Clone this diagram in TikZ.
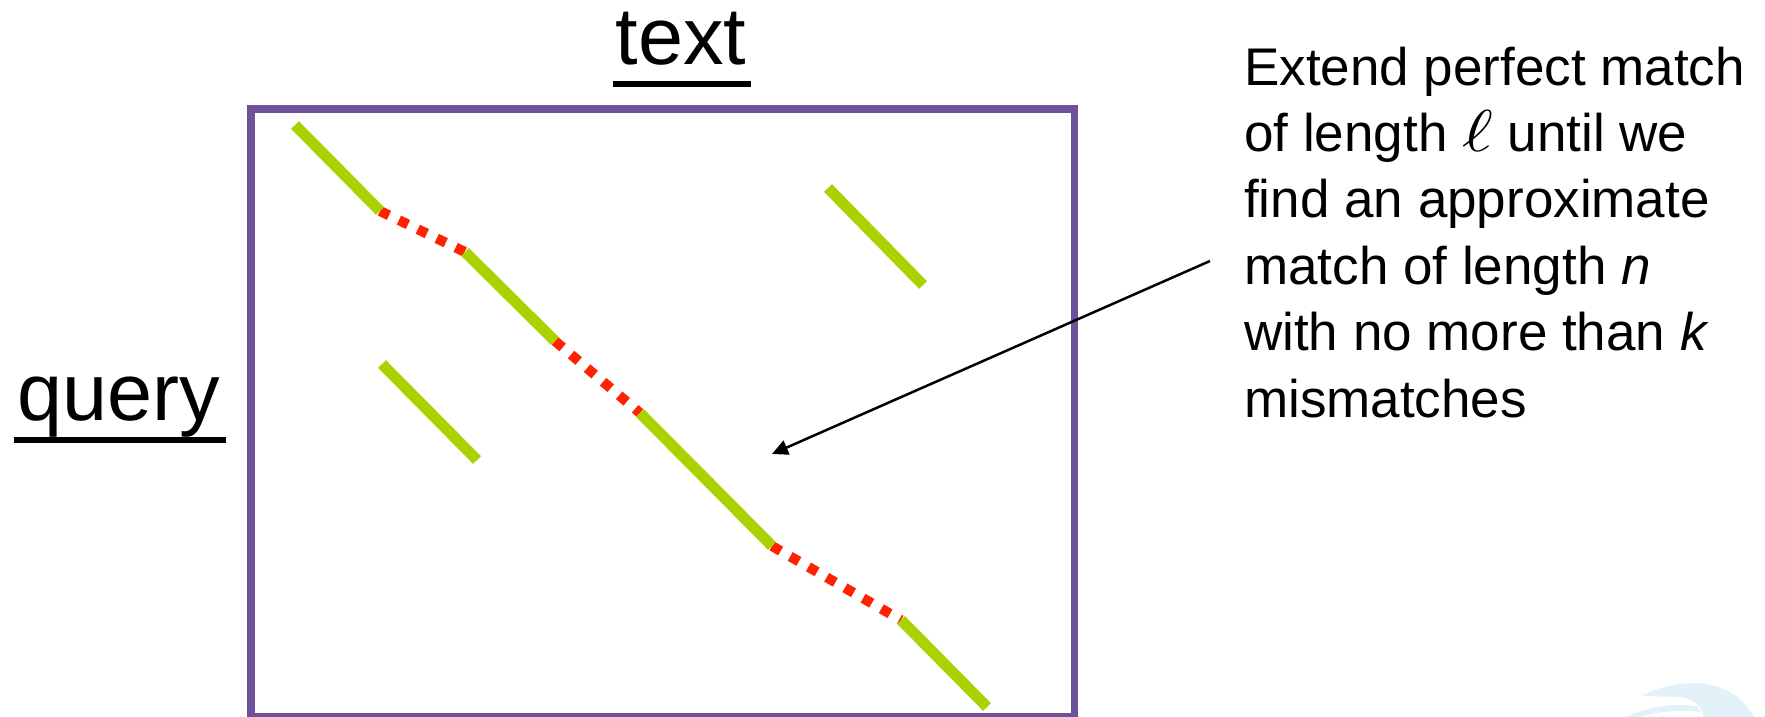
\documentclass[tikz,border=0pt]{standalone}
\usepackage{fontspec}
\setmainfont{Liberation Sans}
\usetikzlibrary{arrows.meta}
\definecolor{boxpurple}{HTML}{6F519B}
\definecolor{matchgreen}{HTML}{A8D300}
\definecolor{mismatchred}{HTML}{FF2200}
\definecolor{wmblue}{HTML}{E3F1F8}
\newcommand{\bigell}{{\fontsize{10}{12}\selectfont\scalebox{7.4}[5.9]{$\ell$}}}
\begin{document}
\begin{tikzpicture}[x=1pt,y=-1pt,
  box/.style={draw=boxpurple,line width=7.7pt},
  hit/.style={draw=matchgreen,line width=11pt,line cap=butt},
  miss/.style={draw=mismatchred,line width=10pt,line cap=butt,dash pattern=on 10pt off 11pt},
  axislabel/.style={inner sep=0pt,font=\fontsize{81}{97}\selectfont},
  uline/.style={line width=6pt,shorten <=-3pt,shorten >=-5pt},
  note/.style={inner sep=0pt,anchor=base west,font=\fontsize{53}{66}\selectfont},
  arr/.style={line width=2.5pt,-{Triangle[length=16pt,width=15pt]}}]
\useasboundingbox (0,0) rectangle (1765,717);
% watermark
\fill[wmblue] (1642,696) .. controls (1668,681) and (1728,670) .. (1754,717)
  -- (1703,717) .. controls (1703,707) and (1695,698) .. (1676,697) -- cycle;
\fill[wmblue] (1626,717) .. controls (1648,706) and (1680,702) .. (1698,707)
  -- (1700,712) .. controls (1680,709) and (1655,712) .. (1640,717) -- cycle;
% box
\draw[box] (250.7,109) rectangle (1074.5,716.5);
% labels
\node[axislabel,anchor=base] (txt) at (681,65) {text};
\draw[uline] ([yshift=-19.5pt]txt.base west) -- ([yshift=-19.5pt]txt.base east);
\node[axislabel,anchor=base] (qry) at (119,420) {query};
\draw[uline] ([yshift=-20pt]qry.base west) -- ([yshift=-20pt]qry.base east);
% match chain
\coordinate (p0) at (295,125);
\coordinate (p1) at (380,211);
\coordinate (p2) at (465,252);
\coordinate (p3) at (555,341);
\coordinate (p4) at (640,413);
\coordinate (p5) at (772,546);
\coordinate (p6) at (901,620);
\coordinate (p7) at (987,707);
\draw[miss] (p1) -- (p2);
\draw[miss] (p3) -- (p4);
\draw[miss] (p5) -- (p6);
\draw[hit] (p0) -- (p1);
\draw[hit] (p2) -- (p3);
\draw[hit] (p4) -- (p5);
\draw[hit] (p6) -- (p7);
% isolated seeds
\coordinate (s1a) at (382,364);
\coordinate (s1b) at (477,460);
\coordinate (s2a) at (828,188);
\coordinate (s2b) at (923,285);
\draw[hit] (s1a) -- (s1b);
\draw[hit] (s2a) -- (s2b);
% note text
\node[note] (l1) at (1244,85) {Extend perfect match};
\node[note] (l2) at (1244,151.4) {of length \bigell\ until we};
\node[note] (l3) at (1244,217.8) {find an approximate};
\node[note] (l4) at (1244,284.2) {match of length \textit{n}};
\node[note] (l5) at (1244,350.6) {with no more than \textit{k}};
\node[note] (l6) at (1244,417) {mismatches};
% arrow
\coordinate (atail) at (1210,261);
\coordinate (atip) at (772,454);
\draw[arr] (atail) -- (atip);
\end{tikzpicture}
\end{document}
